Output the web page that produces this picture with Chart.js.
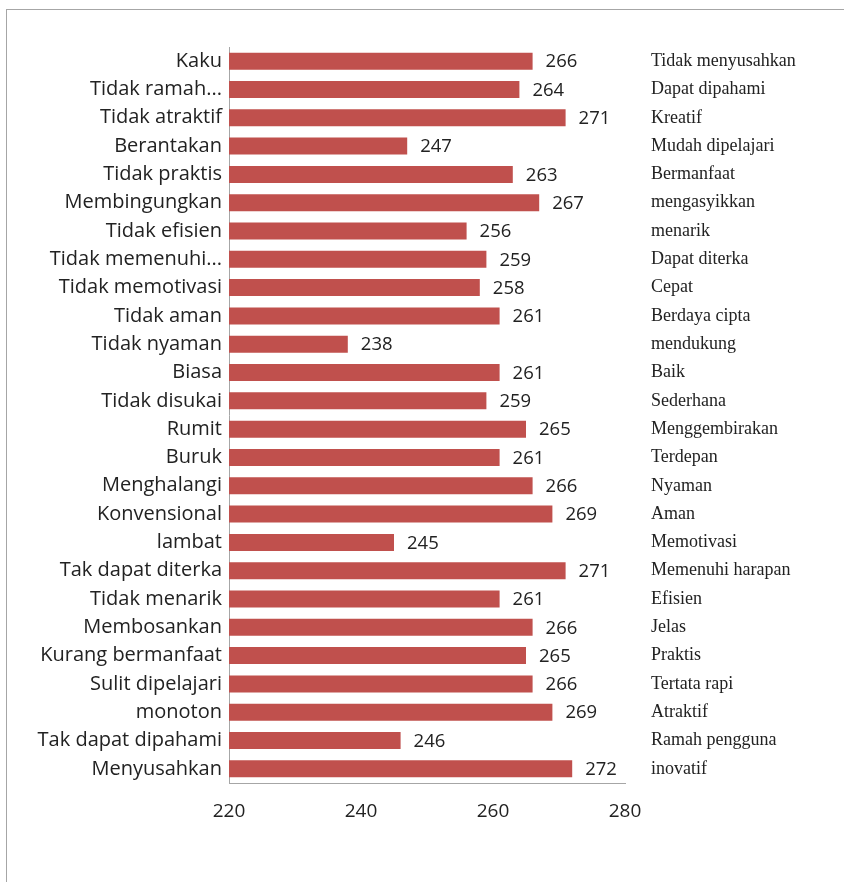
<!DOCTYPE html>
<html>
<head>
<meta charset="utf-8">
<script src="https://cdn.jsdelivr.net/npm/chart.js@4/dist/chart.umd.min.js"></script>
<style>
  html, body { margin: 0; padding: 0; background: #fff; }
  #wrap { position: relative; width: 844px; height: 882px; overflow: hidden; }
  #frame { position: absolute; left: 6px; top: 9px; width: 900px; height: 900px;
           border-left: 1px solid #a6a6a6; border-top: 1px solid #a6a6a6; pointer-events: none; }
  canvas { position: absolute; left: 0; top: 0; }
</style>
</head>
<body>
<div id="wrap">
  <canvas id="c" width="844" height="882"></canvas>
  <div id="frame"></div>
</div>
<script>
const categories = ["Kaku", "Tidak ramah...", "Tidak atraktif", "Berantakan", "Tidak praktis",
  "Membingungkan", "Tidak efisien", "Tidak memenuhi...", "Tidak memotivasi", "Tidak aman",
  "Tidak nyaman", "Biasa", "Tidak disukai", "Rumit", "Buruk", "Menghalangi", "Konvensional",
  "lambat", "Tak dapat diterka", "Tidak menarik", "Membosankan", "Kurang bermanfaat",
  "Sulit dipelajari", "monoton", "Tak dapat dipahami", "Menyusahkan"];
const values = [266, 264, 271, 247, 263, 267, 256, 259, 258, 261, 238, 261, 259, 265, 261,
  266, 269, 245, 271, 261, 266, 265, 266, 269, 246, 272];
const rightLabels = ["Tidak menyusahkan", "Dapat dipahami", "Kreatif", "Mudah dipelajari",
  "Bermanfaat", "mengasyikkan", "menarik", "Dapat diterka", "Cepat", "Berdaya cipta",
  "mendukung", "Baik", "Sederhana", "Menggembirakan", "Terdepan", "Nyaman", "Aman",
  "Memotivasi", "Memenuhi harapan", "Efisien", "Jelas", "Praktis", "Tertata rapi",
  "Atraktif", "Ramah pengguna", "inovatif"];
const xTicks = [220, 240, 260, 280];

const sansFont = "'Open Sans', sans-serif";

const valueLabels = {
  id: 'valueLabels',
  afterDatasetsDraw(chart) {
    const ctx = chart.ctx;
    const meta = chart.getDatasetMeta(0);
    ctx.save();
    ctx.font = "18.5px " + sansFont;
    ctx.fillStyle = '#222';
    ctx.textAlign = 'left';
    ctx.textBaseline = 'middle';
    meta.data.forEach((bar, i) => {
      ctx.fillText(String(chart.data.datasets[0].data[i]), bar.x + 13, bar.y + 1);
    });
    ctx.restore();
  }
};

new Chart(document.getElementById('c'), {
  type: 'bar',
  data: {
    labels: categories,
    datasets: [{
      data: values,
      backgroundColor: '#c0504d',
      borderWidth: 0,
      barPercentage: 0.6,
      categoryPercentage: 1.0,
      yAxisID: 'y'
    }]
  },
  options: {
    indexAxis: 'y',
    responsive: false,
    animation: false,
    layout: { padding: { top: 47, bottom: 0, left: 0, right: 0 } },
    plugins: { legend: { display: false }, tooltip: { enabled: false } },
    scales: {
      x: {
        type: 'linear',
        min: 220, max: 280,
        afterBuildTicks(scale) { scale.ticks = xTicks.map(v => ({ value: v })); },
        grid: { display: false, drawTicks: false },
        border: { display: true, color: '#a6a6a6', width: 1 },
        ticks: { padding: 17, color: '#222', font: { family: sansFont, size: 19 } },
        afterFit(scale) { scale.height = 99; }
      },
      y: {
        type: 'category',
        position: 'left',
        grid: { display: false, drawTicks: false },
        border: { display: true, color: '#a6a6a6', width: 1 },
        ticks: { padding: 7, color: '#222', autoSkip: false, font: { family: sansFont, size: 20 } },
        afterFit(scale) { scale.width = 229; }
      },
      y2: {
        type: 'category',
        position: 'right',
        labels: rightLabels,
        offset: true,
        grid: { display: false, drawTicks: false },
        border: { display: false },
        ticks: { padding: 26, color: '#222', autoSkip: false, font: { family: "'Liberation Serif', serif", size: 18 } },
        afterFit(scale) { scale.width = 219; }
      }
    }
  },
  plugins: [valueLabels]
});
</script>
</body>
</html>
